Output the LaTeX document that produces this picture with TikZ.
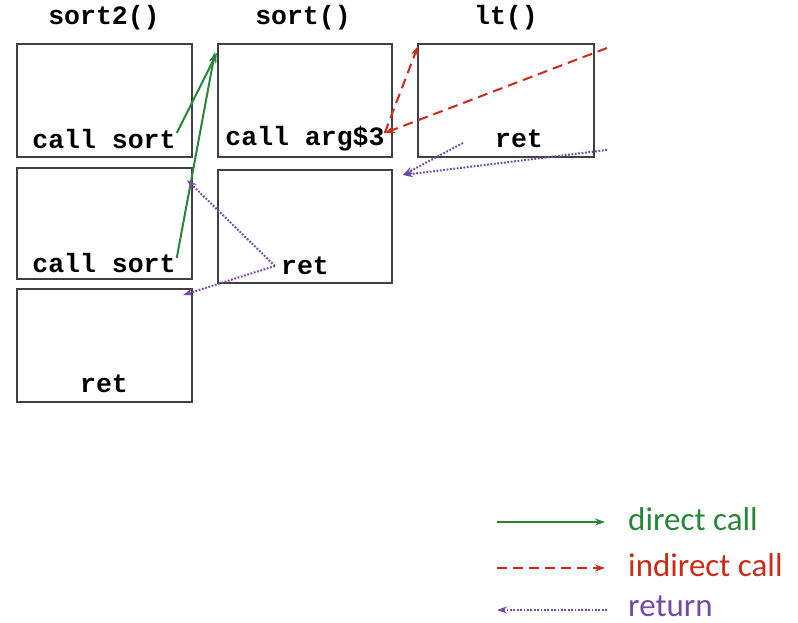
\documentclass[tikz,border=0pt]{standalone}
\usepackage{fontspec}
\setmonofont{Liberation Mono}
\newfontfamily\legendfont{Carlito}
\usetikzlibrary{arrows.meta,calc}
\definecolor{cgreen}{RGB}{40,135,55}
\definecolor{cred}{RGB}{200,45,25}
\definecolor{cpurple}{RGB}{115,75,165}
\begin{document}
\begin{tikzpicture}[x=1pt,y=-1pt,
  blk/.style={draw=black!75,line width=1.6pt,minimum width=175pt,minimum height=113pt,inner sep=0pt,outer sep=0pt,anchor=north west},
  code/.style={font=\ttfamily\bfseries\fontsize{26.5}{26.5}\selectfont,inner sep=0pt},
  lgd/.style={font=\legendfont\fontsize{33}{33}\selectfont,inner sep=0pt,anchor=west},
  dcall/.style={draw=cgreen,line width=2pt,-{Stealth[length=10pt,width=7pt]}},
  icall/.style={draw=cred,line width=2pt,dash pattern=on 10pt off 6pt,-{Stealth[length=10pt,width=7pt]}},
  rtn/.style={draw=cpurple,line width=2pt,dash pattern=on 1.8pt off 1.6pt,-{Stealth[length=10pt,width=7pt]}}]
\useasboundingbox[fill=white] (0,0) rectangle (798,623);
% headers
\node[code] (h1) at (104,18) {sort2()};
\node[code] (h2) at (303,18) {sort()};
\node[code] (h3) at (506,18) {lt()};
% boxes
\node[blk] (A1) at (17,44) {};
\node[blk,minimum height=111pt] (A2) at (17,168) {};
\node[blk] (A3) at (17,289) {};
\node[blk,minimum width=174pt] (B1) at (218,44) {};
\node[blk,minimum width=174pt] (B2) at (218,170) {};
\node[blk,minimum width=176pt] (C1) at (418,44) {};
% texts
\node[code] (cs1) at (104,139) {call sort};
\node[code] (cs2) at (104,263) {call sort};
\node[code] (arg) at (305,139) {call arg\$3};
\node[code] (retC) at (519,139) {ret};
\node[code] (retB) at (305,266) {ret};
\node[code] (retA) at (104,384) {ret};
% free ends
\coordinate (offR) at (607,48);
\coordinate (offP) at (607,150);
\coordinate (tipP) at (403,175);
% direct calls
\draw[dcall] ($(cs1.east)+(1,-6)$) -- ($(B1.north west)+(-1,9)$);
\draw[dcall] ($(cs2.east)+(1,-5)$) -- ($(B1.north west)+(-3,8)$);
% indirect calls
\draw[icall] ($(arg.east)+(0,-6)$) -- ($(C1.north west)+(0,2)$);
\draw[icall] (offR) -- ($(arg.east)+(0,-6)$);
% returns
\draw[rtn] ($(retC.west)+(-32,4)$) -- (tipP);
\draw[rtn] (offP) -- (tipP);
\draw[rtn] ($(retB.west)+(-6,0)$) -- ($(A2.north east)+(-5,12)$);
\draw[rtn] ($(retB.west)+(-6,0)$) -- ($(A3.north east)+(-9,6)$);
% legend
\coordinate (l1a) at (497,522); \coordinate (l1b) at (605,522);
\coordinate (l2a) at (497,568); \coordinate (l2b) at (605,568);
\coordinate (l3a) at (607,610); \coordinate (l3b) at (497,610);
\draw[dcall] (l1a) -- (l1b);
\draw[icall] (l2a) -- (l2b);
\draw[rtn] (l3a) -- (l3b);
\node[lgd,text=cgreen] (t1) at (628,519) {direct call};
\node[lgd,text=cred] (t2) at (628,565) {indirect call};
\node[lgd,text=cpurple] (t3) at (628,606) {return};
\end{tikzpicture}
\end{document}
